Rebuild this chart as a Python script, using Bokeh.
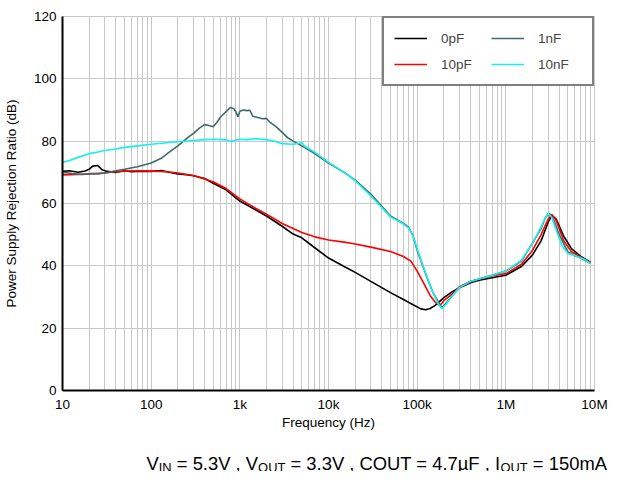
from bokeh.plotting import figure
from bokeh.layouts import column
from bokeh.models import FixedTicker, Legend, LegendItem, Label
from bokeh.embed import file_html
from bokeh.resources import INLINE

# ---------------- data ----------------
f_0pF = [10, 12, 15, 18, 20, 22, 25, 28, 32, 40, 50, 60, 80, 100, 130, 160, 200, 250, 300, 400,
         500, 700, 1000, 1500, 2000, 3000, 4000, 5000, 7000, 10000, 15000, 20000, 30000, 50000,
         70000, 90000, 110000, 125000, 140000, 160000, 200000, 250000, 300000, 400000, 500000,
         700000, 1e6, 1.5e6, 2e6, 2.5e6, 3e6, 3.3e6, 3.7e6, 4.5e6, 5.5e6, 7e6, 9e6]
db_0pF = [70.3, 70.5, 70.0, 70.4, 71.0, 72.0, 72.2, 70.8, 70.3, 70.0, 70.5, 70.2, 70.4, 70.3,
          70.6, 70.0, 69.5, 69.2, 68.9, 68.0, 66.5, 64.4, 60.8, 58.0, 56.0, 52.7, 50.2, 49.0,
          45.8, 42.5, 39.8, 37.9, 35.0, 31.4, 29.2, 27.5, 26.2, 25.9, 26.3, 27.3, 29.8, 31.7,
          33.0, 34.6, 35.4, 36.2, 37.0, 39.8, 43.5, 48.0, 54.0, 56.2, 55.0, 49.5, 45.5, 43.0, 41.2]

f_10pF = [10, 15, 20, 30, 40, 50, 70, 100, 150, 200, 300, 500, 700, 1000, 1500, 2000, 3000,
          5000, 7000, 10000, 15000, 20000, 30000, 50000, 70000, 85000, 100000, 120000, 140000,
          160000, 180000, 200000, 250000, 300000, 400000, 500000, 700000, 1e6, 1.5e6, 2e6,
          2.5e6, 3e6, 3.3e6, 3.7e6, 4.5e6, 5.5e6, 7e6, 9e6]
db_10pF = [69.2, 69.3, 69.5, 69.8, 70.2, 70.4, 70.5, 70.4, 70.2, 69.8, 69.0, 67.0, 64.8, 61.5,
           58.5, 56.6, 53.6, 50.7, 49.3, 48.3, 47.6, 47.0, 46.0, 44.6, 43.0, 41.5, 38.3, 34.1,
           30.5, 28.3, 27.2, 28.8, 31.0, 33.3, 35.0, 35.8, 36.8, 37.5, 40.5, 45.0, 50.0, 55.0,
           56.5, 54.5, 48.0, 44.5, 42.8, 41.0]

f_1nF = [10, 13, 17, 20, 25, 30, 40, 50, 70, 100, 130, 160, 200, 250, 300, 350, 400, 450, 500,
         550, 600, 700, 780, 850, 900, 950, 1000, 1100, 1200, 1300, 1400, 1600, 1800, 2000, 2200,
         2600, 3000, 3500, 4000, 5000, 7000, 10000, 15000, 20000, 30000, 50000, 70000, 80000,
         90000, 100000, 130000, 150000, 190000, 250000, 300000, 400000, 500000, 700000, 1e6,
         1.5e6, 2e6, 2.5e6, 2.8e6, 3.1e6, 3.5e6, 4e6, 5e6, 6e6, 7e6, 9e6]
db_1nF = [70.0, 69.6, 69.3, 69.6, 69.5, 69.8, 70.5, 71.0, 71.8, 73.0, 74.5, 76.5, 78.5, 80.8,
          82.5, 84.2, 85.3, 85.0, 84.6, 86.0, 87.6, 89.5, 90.8, 90.5, 89.5, 87.8, 89.6, 90.0,
          89.8, 89.9, 88.0, 87.6, 87.2, 87.3, 86.0, 84.5, 82.8, 81.0, 80.0, 78.5, 76.0, 73.0,
          70.0, 67.5, 63.0, 56.0, 53.6, 52.4, 49.6, 45.0, 36.0, 31.5, 26.5, 30.5, 33.0, 35.0,
          35.8, 37.0, 38.3, 41.5, 47.3, 52.0, 55.5, 56.8, 54.5, 50.0, 44.5, 43.2, 42.5, 40.8]

f_10nF = [10, 12, 15, 20, 25, 30, 40, 50, 70, 100, 150, 200, 300, 400, 500, 700, 800, 1000,
          1200, 1500, 2000, 2500, 3000, 4000, 5000, 5500, 7000, 10000, 15000, 20000, 30000,
          50000, 70000, 80000, 90000, 100000, 120000, 150000, 175000, 190000, 210000, 250000,
          300000, 400000, 500000, 700000, 1e6, 1.5e6, 2e6, 2.5e6, 2.8e6, 3e6, 3.3e6, 3.7e6,
          4.3e6, 5e6, 6e6, 7e6, 8e6, 9e6]
db_10nF = [73.2, 73.8, 74.8, 76.0, 76.5, 77.0, 77.5, 78.0, 78.5, 79.0, 79.5, 79.8, 80.2, 80.5,
           80.6, 80.4, 80.0, 80.6, 80.5, 80.8, 80.5, 80.0, 79.2, 79.0, 79.5, 78.2, 76.5, 73.2,
           70.0, 67.3, 62.5, 55.7, 53.4, 52.2, 49.5, 45.5, 39.0, 31.5, 27.5, 26.3, 27.5, 30.5,
           33.0, 35.0, 35.8, 37.0, 38.3, 41.8, 47.3, 52.5, 55.5, 56.9, 55.5, 51.5, 46.5, 44.0,
           43.3, 42.6, 41.8, 40.8]

series_names = ["0pF", "10pF", "1nF", "10nF"]
series_colors = ["#000000", "#FF0000", "#3D6B6B", "#14F0F0"]

x_ticks = [10, 100, 1000, 10000, 100000, 1000000, 10000000]
x_tick_labels = ["10", "100", "1k", "10k", "100k", "1M", "10M"]
y_ticks = [0, 20, 40, 60, 80, 100, 120]

caption_pieces = [("V", "main"), ("IN", "sub"), (" = 5.3V , V", "main"), ("OUT", "sub"),
                  (" = 3.3V , COUT = 4.7µF , I", "main"), ("OUT", "sub"), (" = 150mA", "main")]

FONT = "Liberation Sans"
GRID = "#C8C8C8"

# ---------------- main figure ----------------
p = figure(width=612, height=435, x_axis_type="log", x_range=(10, 1e7), y_range=(0, 120),
           output_backend="svg", toolbar_location=None,
           min_border_left=60, min_border_right=18, min_border_top=16, min_border_bottom=45)
p.outline_line_color = GRID
p.background_fill_color = "white"

minor = [m * d for d in x_ticks[:-1] for m in range(2, 10)]
p.xaxis.ticker = FixedTicker(ticks=x_ticks, minor_ticks=minor)
p.yaxis.ticker = FixedTicker(ticks=y_ticks)
p.xaxis.major_label_overrides = {t: l for t, l in zip(x_ticks, x_tick_labels)}

for ax in (p.xaxis[0], p.yaxis[0]):
    ax.axis_line_color = "black"
    ax.axis_line_width = 2
    ax.major_tick_out = 0
    ax.major_tick_in = 0
    ax.minor_tick_out = 0
    ax.minor_tick_in = 0
    ax.major_label_text_font = FONT
    ax.major_label_text_font_size = "13.5px"
    ax.major_label_text_color = "black"
    ax.axis_label_text_font = FONT
    ax.axis_label_text_font_size = "13.5px"
    ax.axis_label_text_font_style = "normal"
    ax.axis_label_text_color = "black"
    ax.major_label_standoff = 6

p.xaxis.axis_label = "Frequency (Hz)"
p.yaxis.axis_label = "Power Supply Rejection Ratio (dB)"
p.xaxis.axis_label_standoff = 0
p.yaxis.axis_label_standoff = 12

p.xgrid.grid_line_color = GRID
p.xgrid.minor_grid_line_color = GRID
p.ygrid.grid_line_color = GRID
p.xgrid.grid_line_width = 1
p.ygrid.grid_line_width = 1

data = [(f_0pF, db_0pF), (f_10pF, db_10pF), (f_1nF, db_1nF), (f_10nF, db_10nF)]
renderers = {}
for (fx, dy), name, col in zip(data, series_names, series_colors):
    renderers[name] = p.line(fx, dy, line_color=col, line_width=1.6)

legend = Legend(items=[LegendItem(label=n, renderers=[renderers[n]]) for n in ["0pF", "10pF", "1nF", "10nF"]],
                location="top_right", ncols=2, margin=0, padding=10, spacing=6,
                label_standoff=14, glyph_width=33, glyph_height=20, label_width=44, label_height=20,
                label_text_font=FONT, label_text_font_size="13.5px",
                border_line_color="black", border_line_width=2, background_fill_alpha=1.0)
p.add_layout(legend)

# ---------------- caption strip (second figure, text with subscripts) ----------------
CAP_W, CAP_H = 620, 36
cap = figure(width=CAP_W, height=CAP_H, x_range=(0, CAP_W), y_range=(0, CAP_H),
             output_backend="svg", toolbar_location=None,
             min_border_left=0, min_border_right=0, min_border_top=0, min_border_bottom=0,
             x_axis_location=None, y_axis_location=None, outline_line_color=None)
cap.grid.visible = False
try:
    cap.frame_align = False
    p.frame_align = False
except Exception:
    pass

ADV = {'V': 667, 'I': 278, 'N': 722, 'O': 778, 'U': 722, 'T': 611, ' ': 278, '=': 584,
       '.': 278, ',': 278, 'C': 722, 'F': 611, 'µ': 576, 'm': 833, 'a': 556}
for d in "0123456789":
    ADV[d] = 556

def text_w(s, size):
    return sum(ADV.get(c, 556) for c in s) * size / 1000.0

SIZES = {"main": 18.4, "sub": 12.9}
BASE = {"main": 8.0, "sub": 4.0}
xo = 146.0
for t, kind in caption_pieces:
    sz = SIZES[kind]
    lead = len(t) - len(t.lstrip(" "))
    xo += lead * 278 * sz / 1000.0
    s = t.strip(" ")
    cap.add_layout(Label(x=xo, y=BASE[kind], text=s, text_font=FONT,
                         text_font_size=f"{sz}px", text_baseline="alphabetic",
                         text_align="left", text_color="black"))
    xo += text_w(s, sz)

layout = column(p, cap, spacing=0)
open("out.html", "w").write(file_html(layout, INLINE))
